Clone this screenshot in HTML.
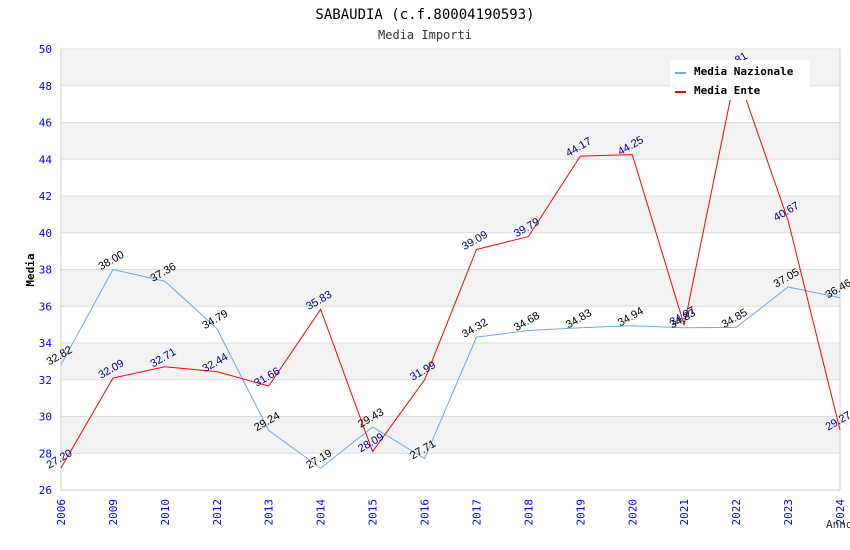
<!DOCTYPE html>
<html><head><meta charset="utf-8"><style>
body{margin:0;background:#fff;}
svg{display:block;font-family:"DejaVu Sans Mono","Liberation Mono",monospace;}
</style></head><body>
<svg id="c" width="850" height="550" xmlns="http://www.w3.org/2000/svg">
<text x="425" y="19" text-anchor="middle" font-size="14" fill="#000">SABAUDIA (c.f.80004190593)</text>
<text x="425" y="39" text-anchor="middle" font-size="12" fill="#333">Media Importi</text>
<g id="bands"></g><g id="grid"></g><g id="axes"></g><g id="series"></g><g id="labels"></g>
<text x="34" y="270" transform="rotate(-90 34 270)" text-anchor="middle" font-size="11" font-weight="bold">Media</text>
<text x="826" y="528" font-size="11" fill="#333">Anno</text>
<g>
<rect x="670" y="60" width="140" height="40" fill="#fff"/>
<line x1="675" y1="73" x2="686" y2="73" stroke="#6aaaf0" stroke-width="2"/>
<text x="694" y="75" font-size="11" font-weight="bold">Media Nazionale</text>
<line x1="675" y1="92" x2="686" y2="92" stroke="#f00" stroke-width="2"/>
<text x="694" y="94" font-size="11" font-weight="bold">Media Ente</text>
</g>
</svg>
<script>
const categories=["2006","2009","2010","2012","2013","2014","2015","2016","2017","2018","2019","2020","2021","2022","2023","2024"];
const nazionale=[32.82,38.00,37.36,34.79,29.24,27.19,29.43,27.71,34.32,34.68,34.83,34.94,34.83,34.85,37.05,36.46];
const ente=[27.20,32.09,32.71,32.44,31.66,35.83,28.09,31.99,39.09,39.79,44.17,44.25,34.97,48.81,40.67,29.27];
const yTicks=[26,28,30,32,34,36,38,40,42,44,46,48,50];
const NS="http://www.w3.org/2000/svg";
const L=61,R=840,T=49,B=490,yMin=26,yMax=50;
const x=i=>L+i*(R-L)/(categories.length-1);
const y=v=>B-(v-yMin)/(yMax-yMin)*(B-T);
function mk(t,a,p){const e=document.createElementNS(NS,t);for(const k in a)e.setAttribute(k,a[k]);p.appendChild(e);return e;}
const bands=document.getElementById('bands'),grid=document.getElementById('grid'),axes=document.getElementById('axes'),series=document.getElementById('series'),labels=document.getElementById('labels');
for(let i=0;i<yTicks.length-1;i++){
  if(i%2===1){const r=mk('rect',{x:L,y:y(yTicks[i+1]),width:R-L,height:y(yTicks[i])-y(yTicks[i+1]),fill:'#f2f2f2'},bands);
  
  }
}
yTicks.forEach(v=>{
  const g=mk('line',{x1:L,x2:R,y1:y(v),y2:y(v),stroke:'#ddd'},grid);
  
  
  const t=mk('text',{x:L-9,y:y(v)+4,'text-anchor':'end','font-size':'11',fill:'#00f'},axes);
  t.textContent=v;
  
  
});
mk('line',{x1:L,x2:L,y1:T,y2:B,stroke:'#ccc'},axes);
mk('line',{x1:R,x2:R,y1:T,y2:B,stroke:'#ccc'},axes);
mk('line',{x1:L,x2:R,y1:B,y2:B,stroke:'#ccc'},axes);
categories.forEach((c,i)=>{
  const t=mk('text',{x:0,y:0,'text-anchor':'end','font-size':'11',fill:'#00f',transform:`translate(${x(i)+4},${B+9}) rotate(-90)`},axes);
  t.textContent=c;
  
  
});
function draw(data,color,lc,name){
  const p=mk('polyline',{points:data.map((v,i)=>x(i)+','+y(v)).join(' '),fill:'none',stroke:color,'stroke-width':1},series);
  
  
  data.forEach((v,i)=>{
    const t=mk('text',{x:0,y:0,'text-anchor':'middle','font-size':'11',fill:lc,'font-family':'"Liberation Sans",sans-serif',transform:`translate(${x(i)},${y(v)-6}) rotate(-30)`},labels);
    t.textContent=v.toFixed(2);
    
    
  });
}
draw(nazionale,'#6aaaf0','#000','nazionale');
draw(ente,'#f00','#00008b','ente');
</script>
</body></html>
